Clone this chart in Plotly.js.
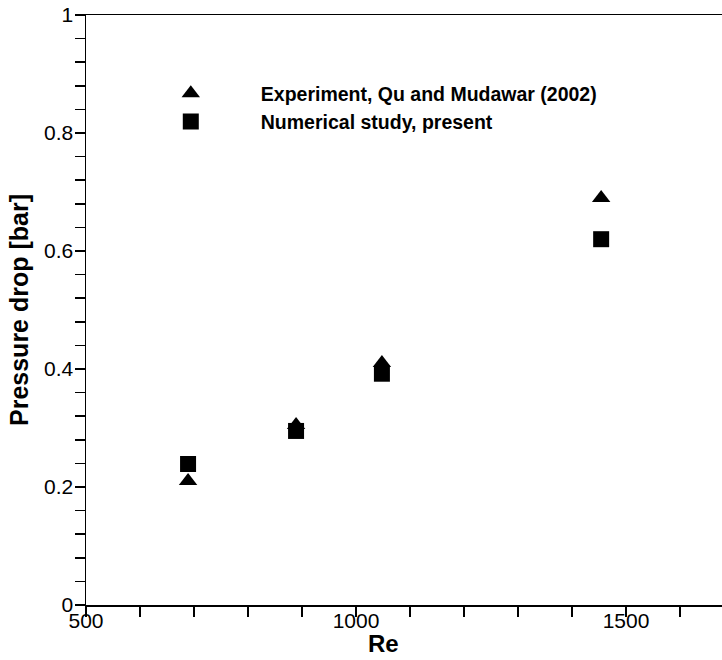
<!DOCTYPE html>
<html><head><meta charset="utf-8">
<script src="https://cdn.plot.ly/plotly-3.0.1.min.js"></script>
<style>html,body{margin:0;padding:0;background:#fff}</style>
</head><body><div id="chart" style="width:722px;height:660px"></div>
<script>
const reynolds = [689, 889, 1048, 1454];
const experiment = [0.21, 0.305, 0.41, 0.69];
const numerical = [0.239, 0.295, 0.392, 0.620];
const seriesNames = ["Experiment, Qu and Mudawar (2002)", "Numerical study, present"];
const xTicks = [500, 1000, 1500];
const yTickVals = [0, 0.04, 0.08, 0.12, 0.16, 0.2, 0.24, 0.28, 0.32, 0.36, 0.4, 0.44, 0.48, 0.52, 0.56,
                   0.6, 0.64, 0.68, 0.72, 0.76, 0.8, 0.84, 0.88, 0.92, 0.96, 1];
const yTickText = ["0", "", "", "", "", "0.2", "", "", "", "", "0.4", "", "", "", "",
                   "0.6", "", "", "", "", "0.8", "", "", "", "", "1"];
const xTitle = "Re";
const yTitle = "Pressure drop [bar]";

const font = "Arial, 'Liberation Sans', sans-serif";
const traces = [
  {x: reynolds, y: experiment, name: seriesNames[0], type: 'scatter', mode: 'markers',
   marker: {symbol: 'triangle-up', size: 16, color: '#000'}},
  {x: reynolds, y: numerical, name: seriesNames[1], type: 'scatter', mode: 'markers',
   marker: {symbol: 'square', size: 16, color: '#000'}}
];
const layout = {
  width: 722, height: 660,
  margin: {l: 86, r: 0, t: 15, b: 55, pad: 0},
  paper_bgcolor: '#fff', plot_bgcolor: '#fff',
  font: {family: font, color: '#000', size: 20},
  showlegend: true,
  legend: {x: 0.0547, y: 0.9, xanchor: 'left', yanchor: 'top', bgcolor: 'rgba(0,0,0,0)',
           itemwidth: 130, font: {family: font, size: 19.5, weight: 'bold', color: '#000'},
           tracegroupgap: 0, itemclick: false},
  xaxis: {range: [500, 1677.8], tickmode: 'array', tickvals: xTicks, ticktext: xTicks.map(String),
          ticks: 'outside', ticklen: 10, tickwidth: 2, tickcolor: '#000',
          showgrid: false, zeroline: false, showline: true, linecolor: '#000', linewidth: 1.5,
          mirror: true, ticklabelstandoff: -14,
          tickfont: {family: font, size: 21, color: '#000'},
          minor: {dtick: 100, tick0: 500, ticks: 'outside', ticklen: 10, tickwidth: 1.2, tickcolor: '#000', showgrid: false}},
  yaxis: {range: [0, 1], tickmode: 'array', tickvals: yTickVals, ticktext: yTickText,
          ticks: 'outside', ticklen: 10, tickwidth: 1.5, tickcolor: '#000',
          showgrid: false, zeroline: false, showline: true, linecolor: '#000', linewidth: 1.5,
          mirror: false, ticklabelstandoff: -3,
          tickfont: {family: font, size: 21, color: '#000'},
          title: {text: yTitle, standoff: 8, font: {family: font, size: 25, weight: 'bold', color: '#000'}}},
  annotations: [{text: xTitle, xref: 'paper', yref: 'paper', x: 0.467, y: -0.0661,
                 xanchor: 'center', yanchor: 'middle', showarrow: false,
                 font: {family: font, size: 24, weight: 'bold', color: '#000'}}]
};
Plotly.newPlot('chart', traces, layout, {displayModeBar: false, staticPlot: true});
</script></body></html>
